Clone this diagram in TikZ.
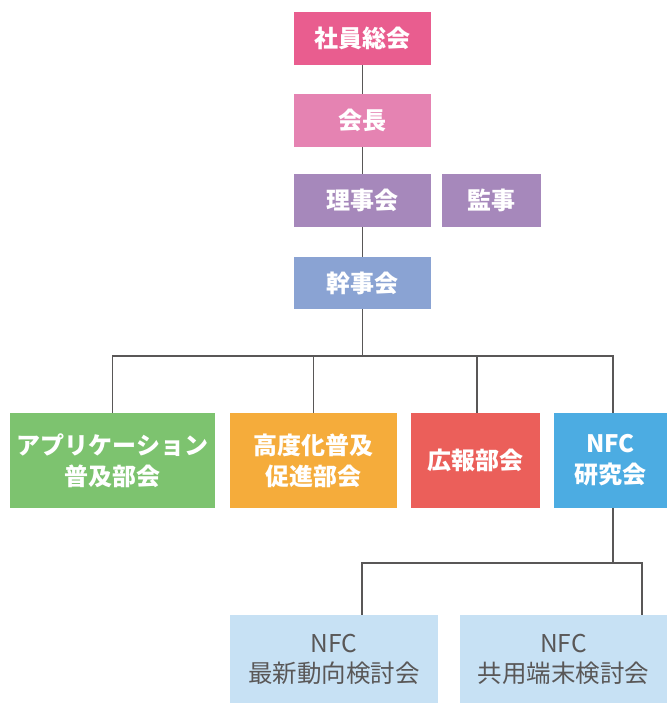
\documentclass[tikz,border=0pt]{standalone}
\usepackage{fontspec}
\setmainfont{Noto Sans CJK JP}
\usetikzlibrary{calc}
\definecolor{cA}{HTML}{E95D8F}
\definecolor{cB}{HTML}{E583B2}
\definecolor{cC}{HTML}{A688BB}
\definecolor{cE}{HTML}{8AA3D3}
\definecolor{cG}{HTML}{7DC36F}
\definecolor{cO}{HTML}{F5AC3B}
\definecolor{cR}{HTML}{EB5F5A}
\definecolor{cN}{HTML}{4CACE2}
\definecolor{cL}{HTML}{C7E1F4}
\definecolor{cT}{HTML}{595757}
\begin{document}
\begin{tikzpicture}[x=1pt,y=-1pt,
  orgbox/.style={rectangle,inner sep=0pt,align=center,text=white,font=\fontsize{24}{31}\selectfont\bfseries},
  subbox/.style={rectangle,inner sep=0pt,align=center,fill=cL,text=cT,font=\fontsize{24.5}{30}\selectfont},
  conn/.style={draw=cT,line width=1.5pt}]
\useasboundingbox (0,0) rectangle (667,704);
\node[orgbox,fill=cA,minimum width=137pt,minimum height=53pt] (a) at (362.5,38.5) {社員総会};
\node[orgbox,fill=cB,minimum width=137pt,minimum height=53pt] (b) at (362.5,120.5) {会長};
\node[orgbox,fill=cC,minimum width=137pt,minimum height=53pt] (c) at (362.5,200.5) {理事会};
\node[orgbox,fill=cC,minimum width=99pt,minimum height=53pt] (d) at (491.5,200.5) {監事};
\node[orgbox,fill=cE,minimum width=137pt,minimum height=52pt] (e) at (362.5,283) {幹事会};
\node[orgbox,fill=cG,minimum width=205pt,minimum height=95pt] (g) at (112.5,460.5) {アプリケーション\\普及部会};
\node[orgbox,fill=cO,minimum width=167pt,minimum height=95pt] (o) at (313.5,460.5) {高度化普及\\促進部会};
\node[orgbox,fill=cR,minimum width=129pt,minimum height=95pt] (r) at (475.5,460.5) {広報部会};
\node[orgbox,fill=cN,minimum width=113pt,minimum height=95pt] (n) at (610.5,460.5) {NFC\\研究会};
\node[subbox,minimum width=208pt,minimum height=88pt] (l1) at (334,659) {NFC\\最新動向検討会};
\node[subbox,minimum width=207pt,minimum height=88pt] (l2) at (563.5,659) {NFC\\共用端末検討会};
\coordinate (bus) at (362,356);
\coordinate (bus2) at (613,563);
\draw[conn] (a.south) -- (b.north);
\draw[conn] (b.south) -- (c.north);
\draw[conn] (c.south) -- (e.north);
\draw[conn] (e.south) -- (e.south |- bus);
\draw[conn] (g.north) |- ([xshift=2.5pt]n.north |- bus) -- ([xshift=2.5pt]n.north);
\draw[conn] (o.north) -- (o.north |- bus);
\draw[conn] ([xshift=1.5pt]r.north) -- ([xshift=1.5pt]r.north |- bus);
\draw[conn] ([xshift=2.5pt]n.south) -- (bus2);
\draw[conn] ([xshift=28pt]l1.north) |- ([xshift=78.5pt]l2.north |- bus2) -- ([xshift=78.5pt]l2.north);
\end{tikzpicture}
\end{document}
